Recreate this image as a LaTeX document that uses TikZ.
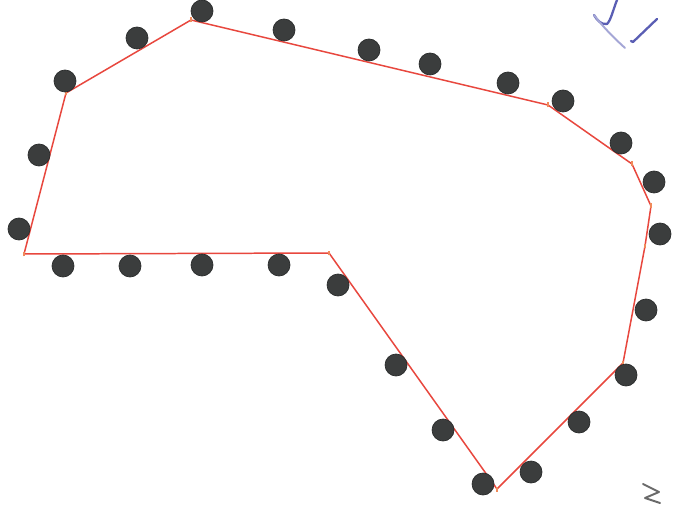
\documentclass[tikz,border=0pt]{standalone}
\begin{document}
\begin{tikzpicture}[x=0.02cm,y=-0.02cm,
  dot/.style={circle,fill=dotgray,draw=dotedge,line width=0.4pt,minimum size=0.44cm,inner sep=0pt},
  edge/.style={draw=linered,line width=0.85pt,line join=miter},
  tick/.style={draw=tickorange,line width=0.6pt},
  pen/.style={draw=penblue,line width=1.3pt,line cap=round,line join=round},
  penlight/.style={draw=penblue!55,line width=1.1pt,line cap=round},
  pencil/.style={draw=pencilgray,line width=1.1pt,line cap=round,line join=round}]
\definecolor{dotgray}{HTML}{3B3D3D}
\definecolor{dotedge}{HTML}{2A2C2C}
\definecolor{linered}{HTML}{E8473E}
\definecolor{tickorange}{HTML}{F08A5A}
\definecolor{penblue}{HTML}{5A5EB4}
\definecolor{pencilgray}{HTML}{6A6A6A}
\fill[white] (0,0) rectangle (675,506);
\useasboundingbox (0,0) rectangle (675,506);
% polygon vertices
\coordinate (v1) at (24,254);
\coordinate (v2) at (66,93);
\coordinate (v3) at (191,20);
\coordinate (v4) at (548,105);
\coordinate (v5) at (632,164);
\coordinate (v6) at (651,206);
\coordinate (v7) at (645,246);
\coordinate (v8) at (623,363);
\coordinate (v9) at (497,489);
\coordinate (v10) at (329,253);
\draw[edge] (v1) -- (v2) -- (v3) -- (v4) -- (v5) -- (v6) -- (v7) -- (v8) -- (v9) -- (v10) -- cycle;
% vertex ticks
\foreach \v in {v1,v2,v3,v4,v5,v6,v7,v8,v9,v10}{\draw[tick] ([yshift=-0.05cm]\v) -- ([yshift=0.05cm]\v);}
% dots
\node[dot] (d1) at (202,11) {};
\node[dot] (d2) at (284,30) {};
\node[dot] (d3) at (369,50) {};
\node[dot] (d4) at (430,64) {};
\node[dot] (d5) at (508,83) {};
\node[dot] (d6) at (563,101) {};
\node[dot] (d7) at (621,143) {};
\node[dot] (d8) at (654,182) {};
\node[dot] (d9) at (660,234) {};
\node[dot] (d10) at (646,310) {};
\node[dot] (d11) at (626,375) {};
\node[dot] (d12) at (579,422) {};
\node[dot] (d13) at (531,472) {};
\node[dot] (d14) at (483,484) {};
\node[dot] (d15) at (443,430) {};
\node[dot] (d16) at (396,365) {};
\node[dot] (d17) at (338,285) {};
\node[dot] (d18) at (279,265) {};
\node[dot] (d19) at (202,265) {};
\node[dot] (d20) at (130,266) {};
\node[dot] (d21) at (63,266) {};
\node[dot] (d22) at (19,229) {};
\node[dot] (d23) at (39,155) {};
\node[dot] (d24) at (65,81) {};
\node[dot] (d25) at (137,38) {};
% handwritten M
\coordinate (ma) at (617,0);
\coordinate (mb) at (607,24);
\coordinate (mc) at (594,15);
\coordinate (md) at (625,48);
\draw[pen] (ma) .. controls (613,10) and (611,20) .. (mb) .. controls (601,25) and (597,20) .. (mc);
\draw[penlight] (mc) .. controls (603,27) and (614,38) .. (md);
\coordinate (me) at (657,19);
\coordinate (mf) at (633,42);
\draw[pen] (me) -- (mf) -- (631,41);
% handwritten N
\coordinate (na) at (643,484);
\coordinate (nb) at (659,492);
\coordinate (nc) at (645,498);
\coordinate (nd) at (660,503);
\draw[pencil] (na) -- (nb) -- (nc) -- (nd);
\end{tikzpicture}
\end{document}
